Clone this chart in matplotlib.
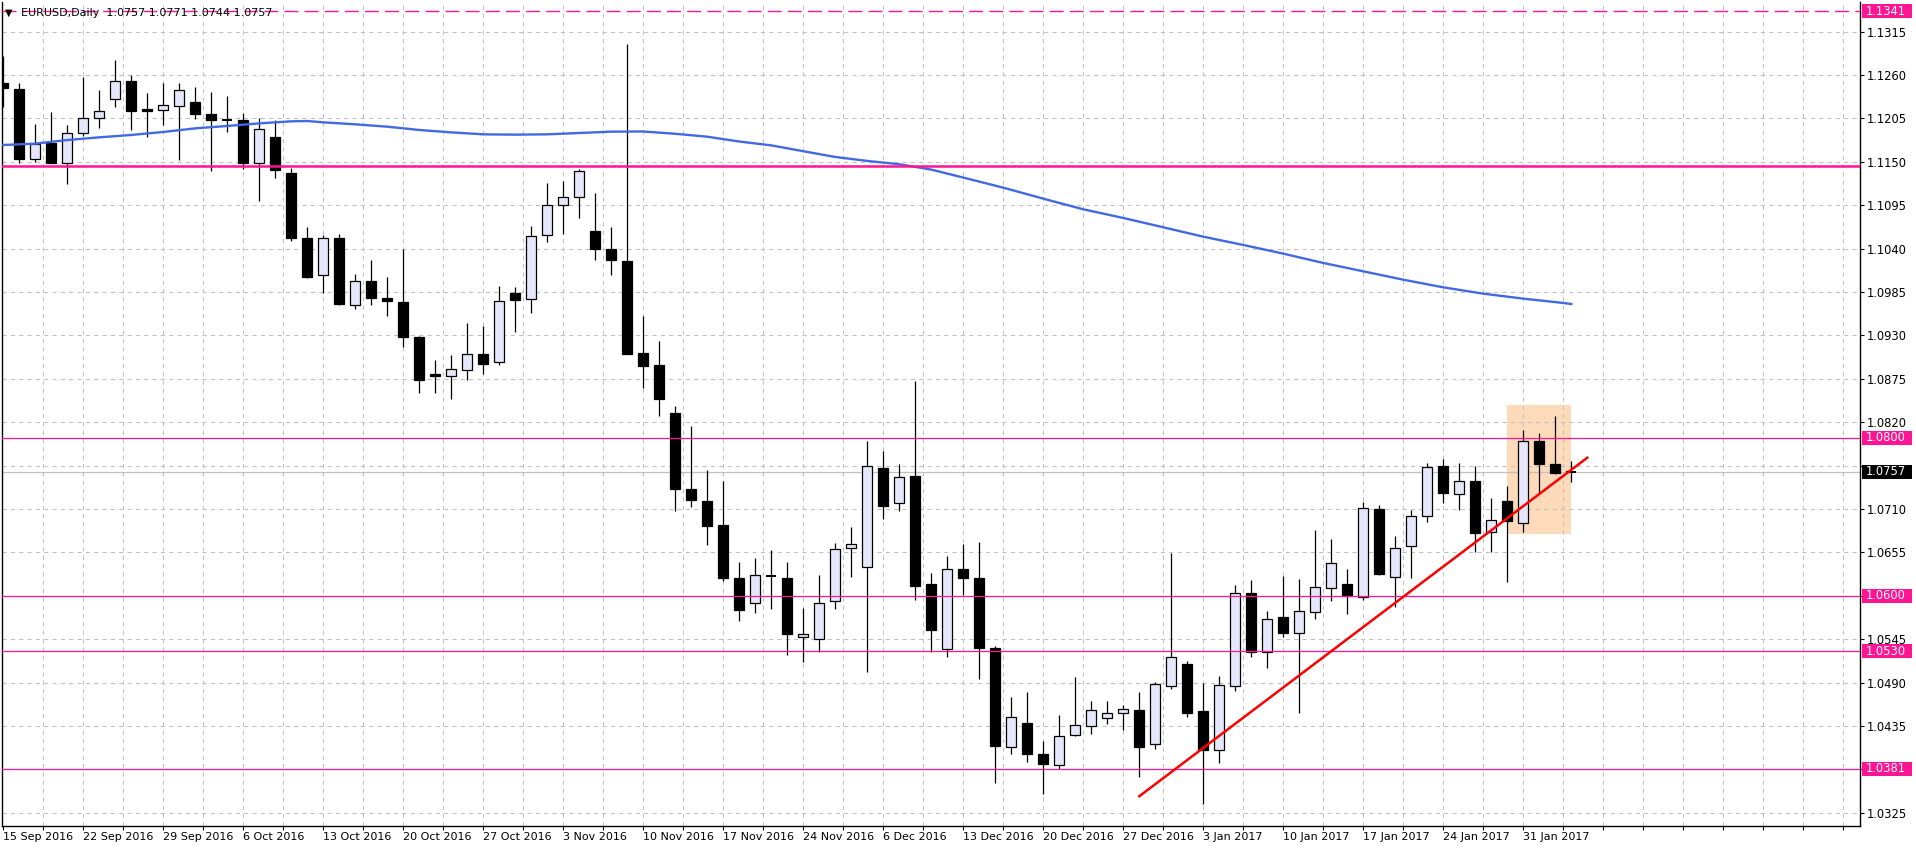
import numpy as np
import matplotlib
matplotlib.use("Agg")
import matplotlib.pyplot as plt
from matplotlib.patches import Rectangle
from matplotlib.transforms import blended_transform_factory

# ---------------- data ----------------
opens = [1.1250, 1.1242, 1.1153, 1.1174, 1.1149, 1.1187, 1.1206, 1.1229, 1.1253, 1.1217,
         1.1216, 1.1221, 1.1226, 1.1211, 1.1203, 1.1203, 1.1148, 1.1181, 1.1136, 1.1053,
         1.1006, 1.1054, 1.0968, 1.0999, 1.0977, 1.0972, 1.0928, 1.0881, 1.0879, 1.0886,
         1.0906, 1.0896, 1.0984, 1.0976, 1.1057, 1.1095, 1.1105, 1.1062, 1.1039, 1.1024,
         1.0908, 1.0892, 1.0832, 1.0735, 1.0720, 1.0690, 1.0622, 1.0591, 1.0625, 1.0622,
         1.0548, 1.0545, 1.0594, 1.0661, 1.0636, 1.0762, 1.0718, 1.0752, 1.0615, 1.0532,
         1.0634, 1.0623, 1.0534, 1.0409, 1.0439, 1.0399, 1.0386, 1.0423, 1.0435, 1.0445,
         1.0452, 1.0455, 1.0412, 1.0486, 1.0514, 1.0454, 1.0404, 1.0486, 1.0603, 1.0529,
         1.0573, 1.0553, 1.0580, 1.0610, 1.0615, 1.0599, 1.0710, 1.0624, 1.0663, 1.0701,
         1.0765, 1.0729, 1.0746, 1.0681, 1.0720, 1.0692, 1.0796, 1.0767, 1.0757]
highs = [1.1284, 1.1250, 1.1198, 1.1213, 1.1197, 1.1258, 1.1241, 1.1279, 1.1260, 1.1237,
         1.1250, 1.1250, 1.1245, 1.1239, 1.1233, 1.1212, 1.1205, 1.1203, 1.1142, 1.1067,
         1.1057, 1.1058, 1.1008, 1.1026, 1.1004, 1.1040, 1.0929, 1.0899, 1.0905, 1.0946,
         1.0942, 1.0993, 1.0991, 1.1069, 1.1123, 1.1126, 1.1141, 1.1111, 1.1067, 1.1299,
         1.0954, 1.0923, 1.0840, 1.0815, 1.0759, 1.0745, 1.0643, 1.0648, 1.0658, 1.0643,
         1.0585, 1.0627, 1.0667, 1.0687, 1.0796, 1.0784, 1.0767, 1.0872, 1.0629, 1.0651,
         1.0666, 1.0668, 1.0537, 1.0472, 1.0478, 1.0416, 1.0449, 1.0497, 1.0467, 1.0467,
         1.0462, 1.0478, 1.0491, 1.0654, 1.0517, 1.0489, 1.0499, 1.0614, 1.0620, 1.0581,
         1.0625, 1.0621, 1.0683, 1.0672, 1.0634, 1.0719, 1.0715, 1.0676, 1.0709, 1.0768,
         1.0773, 1.0768, 1.0765, 1.0724, 1.0739, 1.0810, 1.0806, 1.0828, 1.0771]
lows = [1.1219, 1.1149, 1.1150, 1.1149, 1.1122, 1.1183, 1.1193, 1.1220, 1.1190, 1.1181,
        1.1197, 1.1152, 1.1204, 1.1138, 1.1188, 1.1141, 1.1100, 1.1130, 1.1049, 1.1003,
        1.0984, 1.0969, 1.0963, 1.0969, 1.0954, 1.0915, 1.0857, 1.0857, 1.0850, 1.0873,
        1.0881, 1.0892, 1.0934, 1.0959, 1.1048, 1.1059, 1.1079, 1.1026, 1.1007, 1.0906,
        1.0863, 1.0828, 1.0708, 1.0713, 1.0665, 1.0619, 1.0568, 1.0578, 1.0583, 1.0525,
        1.0516, 1.0529, 1.0583, 1.0624, 1.0503, 1.0697, 1.0708, 1.0595, 1.0529, 1.0523,
        1.0601, 1.0494, 1.0363, 1.0399, 1.0390, 1.0349, 1.0381, 1.0422, 1.0425, 1.0438,
        1.0430, 1.0370, 1.0406, 1.0482, 1.0447, 1.0336, 1.0388, 1.0479, 1.0523, 1.0509,
        1.0548, 1.0452, 1.0570, 1.0594, 1.0577, 1.0595, 1.0626, 1.0586, 1.0623, 1.0693,
        1.0718, 1.0709, 1.0656, 1.0656, 1.0618, 1.0681, 1.0730, 1.0754, 1.0744]
closes = [1.1244, 1.1154, 1.1173, 1.1149, 1.1187, 1.1206, 1.1215, 1.1252, 1.1214, 1.1215,
          1.1222, 1.1241, 1.1210, 1.1203, 1.1202, 1.1149, 1.1192, 1.1139, 1.1053, 1.1004,
          1.1054, 1.0970, 1.0999, 1.0978, 1.0973, 1.0928, 1.0873, 1.0879, 1.0887, 1.0906,
          1.0894, 1.0974, 1.0975, 1.1056, 1.1095, 1.1105, 1.1138, 1.1039, 1.1025, 1.0907,
          1.0891, 1.0849, 1.0735, 1.0721, 1.0689, 1.0623, 1.0582, 1.0626, 1.0624, 1.0551,
          1.0552, 1.0591, 1.0659, 1.0666, 1.0764, 1.0714, 1.0751, 1.0613, 1.0557, 1.0634,
          1.0623, 1.0534, 1.0410, 1.0447, 1.0400, 1.0387, 1.0422, 1.0436, 1.0455, 1.0451,
          1.0456, 1.0409, 1.0488, 1.0522, 1.0452, 1.0404, 1.0487, 1.0604, 1.0529, 1.0570,
          1.0553, 1.0581, 1.0611, 1.0641, 1.0600, 1.0711, 1.0628, 1.0661, 1.0701, 1.0763,
          1.0730, 1.0746, 1.0679, 1.0696, 1.0695, 1.0796, 1.0767, 1.0755, 1.0757]

# moving average (read at these bar positions)
ma_bars = [0, 2, 4, 6, 8, 10, 12, 14, 16, 18, 19, 20, 22, 24, 26, 28, 30, 32, 34, 36,
           38, 40, 42, 44, 46, 48, 50, 52, 54, 56, 58, 60, 62.5, 65, 67.5, 70, 72.5, 75,
           77.5, 80, 82.5, 85, 87.5, 90, 92.5, 95, 97.5, 98]
ma_values = [1.11713, 1.11730, 1.11776, 1.11810, 1.11840, 1.11878, 1.11924, 1.11954,
             1.11987, 1.12013, 1.12017, 1.12000, 1.11975, 1.11945, 1.11903, 1.11873,
             1.11848, 1.11844, 1.11848, 1.11865, 1.11882, 1.11884, 1.11855, 1.11818,
             1.11757, 1.11708, 1.11634, 1.11561, 1.11511, 1.11469, 1.11401, 1.11300,
             1.11172, 1.11033, 1.10898, 1.10788, 1.10670, 1.10551, 1.10446, 1.10336,
             1.10218, 1.10112, 1.10006, 1.09909, 1.09829, 1.09766, 1.09711, 1.09698]

date_labels = ["15 Sep 2016", "22 Sep 2016", "29 Sep 2016", "6 Oct 2016", "13 Oct 2016",
               "20 Oct 2016", "27 Oct 2016", "3 Nov 2016", "10 Nov 2016", "17 Nov 2016",
               "24 Nov 2016", "6 Dec 2016", "13 Dec 2016", "20 Dec 2016", "27 Dec 2016",
               "3 Jan 2017", "10 Jan 2017", "17 Jan 2017", "24 Jan 2017", "31 Jan 2017"]
date_label_bars = [0, 5, 10, 15, 20, 25, 30, 35, 40, 45, 50, 55, 60, 65, 70, 75, 80, 85, 90, 95]

price_ticks = [1.1315, 1.1260, 1.1205, 1.1150, 1.1095, 1.1040, 1.0985, 1.0930, 1.0875,
               1.0820, 1.0765, 1.0710, 1.0655, 1.0600, 1.0545, 1.0490, 1.0435, 1.0380, 1.0325]
# tick labels hidden behind the coloured price boxes
hidden_tick_labels = [1.0765, 1.0600, 1.0380]

labeled_levels = [1.1341, 1.0800, 1.0600, 1.0530, 1.0381]
unlabeled_level = 1.1145
bid_price = 1.0757
trend_bars = [71, 99]
trend_prices = [1.0346, 1.0775]
box_bars = [94, 98]
box_prices = [1.0678, 1.0842]
title_text = "EURUSD,Daily  1.0757 1.0771 1.0744 1.0757"

# ---------------- layout ----------------
W, H = 1916, 850
AX_L, AX_R, AX_T, AX_B = 2, 1860, 2, 826
BAR0_PX, BAR_PX = 3.3, 16.0
Y_MIN, Y_MAX = 1.03083, 1.13525
MAGENTA = "#ff1493"

fig = plt.figure(figsize=(W / 100, H / 100), dpi=100)
fig.patch.set_facecolor("white")
ax = fig.add_axes([AX_L / W, (H - AX_B) / H, (AX_R - AX_L) / W, (AX_B - AX_T) / H])
ax.set_facecolor("white")

x_left = (AX_L - BAR0_PX) / BAR_PX
x_right = (AX_R - BAR0_PX) / BAR_PX
ax.set_xlim(x_left, x_right)
ax.set_ylim(Y_MIN, Y_MAX)
px_per_unit = (AX_B - AX_T) / (Y_MAX - Y_MIN)

# grid & ticks
ax.set_axisbelow(True)
xt = np.arange(0, 116.1, 2.5)
ax.set_xticks(xt)
lab_map = dict(zip(date_label_bars, date_labels))
ax.set_xticklabels([lab_map.get(int(v), "") if float(v).is_integer() else "" for v in xt],
                   ha="left", fontsize=8)
ax.set_yticks(price_ticks)
ax.set_yticklabels(["" if any(abs(v - hv) < 1e-9 for hv in hidden_tick_labels) else "%.4f" % v
                    for v in price_ticks], fontsize=8.3)
ax.yaxis.tick_right()
ax.grid(True, color="#c0c0c0", linestyle=(0, (4, 4)), linewidth=0.75)
ax.get_xgridlines()[0].set_visible(False)
ax.tick_params(axis="x", direction="out", length=3, width=0.8, pad=1.5, colors="black")
ax.tick_params(axis="y", direction="out", length=3, width=0.8, pad=2, colors="black")
for lbl in ax.get_xticklabels():
    lbl.set_horizontalalignment("left")

for s in ["left", "right", "bottom"]:
    ax.spines[s].set_color("black")
    ax.spines[s].set_linewidth(1.0)
ax.spines["top"].set_visible(False)

# highlight box
ax.add_patch(Rectangle((box_bars[0], box_prices[0]), box_bars[1] - box_bars[0],
                       box_prices[1] - box_prices[0], facecolor="#fddab9",
                       edgecolor="none", zorder=0.2))

# candles
x = np.arange(len(opens))
o = np.array(opens); h = np.array(highs); l = np.array(lows); c = np.array(closes)
ax.vlines(x, l, h, color="black", linewidth=0.9, zorder=2)
body_w = 0.64
min_body = 1.2 / px_per_unit
for i in range(len(x)):
    lo, hi = min(o[i], c[i]), max(o[i], c[i])
    if hi - lo < min_body:
        ax.hlines(o[i], x[i] - body_w / 2, x[i] + body_w / 2, color="black",
                  linewidth=1.4, zorder=3)
    else:
        fc = "#e6e6fa" if c[i] > o[i] else "black"
        ax.add_patch(Rectangle((x[i] - body_w / 2, lo), body_w, hi - lo,
                               facecolor=fc, edgecolor="black", linewidth=0.9, zorder=3))

# bid line
ax.axhline(bid_price, color="#c0c0c0", linewidth=0.9, zorder=1.5)

# moving average
ax.plot(ma_bars, ma_values, color="#4169e1", linewidth=1.7, zorder=4)

# horizontal levels
ax.axhline(labeled_levels[0], color=MAGENTA, linewidth=1.0, linestyle=(0, (10, 4.5)), zorder=4)
for lv in labeled_levels[1:]:
    ax.axhline(lv, color=MAGENTA, linewidth=0.9, zorder=4)
ax.axhline(unlabeled_level, color=MAGENTA, linewidth=1.8, zorder=4)

# trend line
ax.plot(trend_bars, trend_prices, color="#ff0000", linewidth=1.8, zorder=5)

# right-side price boxes
blend = blended_transform_factory(fig.transFigure, ax.transData)
box_h = 14 / px_per_unit
def price_box(p, fc):
    ax.add_patch(Rectangle((1862 / W, p - box_h / 2), 50 / W, box_h, transform=blend,
                           facecolor=fc, edgecolor="none", zorder=6, clip_on=False))
    ax.text(1866 / W, p, "%.4f" % p, transform=blend, color="white", fontsize=8.3,
            va="center", ha="left", zorder=7, clip_on=False)

for lv in labeled_levels:
    price_box(lv, MAGENTA)
price_box(bid_price, "black")

# title
fig.text(5 / W, 1 - 13 / H, "\u25BC", fontsize=7, va="center", ha="left", color="black")
fig.text(21 / W, 1 - 13 / H, title_text, fontsize=8, va="center", ha="left", color="black")

fig.savefig("out.png", dpi=100, facecolor="white")
